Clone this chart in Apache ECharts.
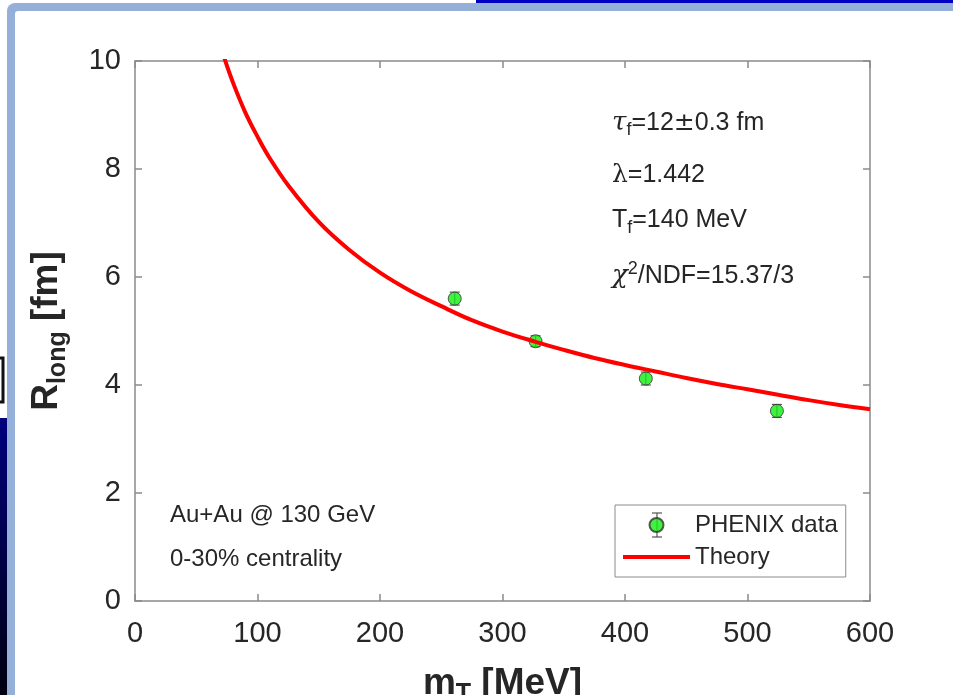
<!DOCTYPE html>
<html>
<head>
<meta charset="utf-8">
<script src="https://cdn.jsdelivr.net/npm/echarts@6/dist/echarts.min.js"></script>
<style>
html,body{margin:0;padding:0;background:#fff;}
#chart{width:953px;height:695px;}
</style>
</head>
<body>
<div id="chart"></div>
<script>
// PHENIX data points: m_T [MeV], R_long [fm], error [fm]
const dataMT = [261, 327, 417, 524];
const dataR = [5.6, 4.81, 4.12, 3.52];
const dataErr = [0.12, 0.1, 0.12, 0.12];

// Theory curve samples
const theoryMT = [73, 80, 90, 100, 110, 125, 150, 175, 200, 225, 250, 275, 300, 327, 350, 375, 400, 425, 450, 475, 500, 525, 550, 575, 600];
const theoryR  = [10.05, 9.6, 9.05, 8.6, 8.2, 7.7, 7.02, 6.5, 6.08, 5.74, 5.46, 5.2, 4.99, 4.8, 4.65, 4.5, 4.37, 4.25, 4.13, 4.02, 3.92, 3.82, 3.72, 3.63, 3.55];

const xTicks = [0, 100, 200, 300, 400, 500, 600];
const yTicks = [0, 2, 4, 6, 8, 10];

const FONT = '"Liberation Sans", Arial, Helvetica, sans-serif';
const TXT = '#262626';
const AX = '#8a8a8a';

const chart = echarts.init(document.getElementById('chart'), null, {renderer: 'canvas'});

const scatterData = dataMT.map((x, i) => [x, dataR[i]]);
const errData = dataMT.map((x, i) => [x, dataR[i], dataErr[i]]);
const lineData = theoryMT.map((x, i) => [x, theoryR[i]]);

const axisCommon = {
  axisLine: {show: true, onZero: false, lineStyle: {color: AX, width: 1.5}},
  axisTick: {show: true, inside: true, length: 7, lineStyle: {color: AX, width: 1.5}},
  splitLine: {show: false}
};

const option = {
  animation: false,
  backgroundColor: '#ffffff',
  grid: {left: 135, top: 61, right: 83, bottom: 94, containLabel: false, outerBoundsMode: 'none'},
  xAxis: [
    Object.assign({
      type: 'value', min: xTicks[0], max: xTicks[xTicks.length - 1], interval: 100, position: 'bottom',
      axisLabel: {fontSize: 29, color: TXT, fontFamily: FONT, margin: 18},
      name: '{m|m}{s|T}{m| [MeV]}', nameLocation: 'middle', nameGap: 63,
      nameTextStyle: {
        rich: {
          m: {fontSize: 37, fontWeight: 'bold', color: TXT, fontFamily: FONT, lineHeight: 40},
          s: {fontSize: 25, fontWeight: 'bold', color: TXT, fontFamily: FONT, padding: [20, 0, 0, 0], lineHeight: 40}
        }
      }
    }, axisCommon),
    Object.assign({
      type: 'value', min: xTicks[0], max: xTicks[xTicks.length - 1], interval: 100, position: 'top',
      axisLabel: {show: false}
    }, axisCommon)
  ],
  yAxis: [
    Object.assign({
      type: 'value', min: yTicks[0], max: yTicks[yTicks.length - 1], interval: 2, position: 'left',
      axisLabel: {fontSize: 29, color: TXT, fontFamily: FONT, margin: 14},
      name: '{m|R}{s|long}{m| [fm]}', nameLocation: 'middle', nameGap: 68, nameRotate: 90,
      nameTextStyle: {
        rich: {
          m: {fontSize: 37, fontWeight: 'bold', color: TXT, fontFamily: FONT, lineHeight: 40},
          s: {fontSize: 25, fontWeight: 'bold', color: TXT, fontFamily: FONT, padding: [22, 0, 0, 0], lineHeight: 40}
        }
      }
    }, axisCommon),
    Object.assign({
      type: 'value', min: yTicks[0], max: yTicks[yTicks.length - 1], interval: 2, position: 'right',
      axisLabel: {show: false}
    }, axisCommon)
  ],
  legend: {
    orient: 'vertical', left: 615, top: 505, z: 4,
    padding: [8, 8, 8, 8], itemGap: 8, itemWidth: 67, itemHeight: 14,
    borderColor: '#8c8c8c', borderWidth: 1, backgroundColor: 'transparent',
    textStyle: {fontSize: 24, color: TXT, fontFamily: FONT},
    data: [
      {name: 'PHENIX data', icon: 'circle'},
      {name: 'Theory', icon: 'path://M0,0H67V4H0Z'}
    ]
  },
  series: [
    {
      name: 'PHENIX data err', type: 'custom', z: 1,
      data: errData,
      renderItem: function (params, api) {
        const x = api.value(0), y = api.value(1), e = api.value(2);
        const top = api.coord([x, y + e]);
        const bot = api.coord([x, y - e]);
        const c = {stroke: '#555', lineWidth: 1.2};
        return {
          type: 'group',
          children: [
            {type: 'line', shape: {x1: top[0], y1: top[1], x2: bot[0], y2: bot[1]}, style: c},
            {type: 'line', shape: {x1: top[0] - 5, y1: top[1], x2: top[0] + 5, y2: top[1]}, style: c},
            {type: 'line', shape: {x1: bot[0] - 5, y1: bot[1], x2: bot[0] + 5, y2: bot[1]}, style: c}
          ]
        };
      }
    },
    {
      name: 'PHENIX data', type: 'scatter', z: 2,
      data: scatterData, symbol: 'circle', symbolSize: 13,
      itemStyle: {color: '#11ee11', borderColor: '#333', borderWidth: 1}
    },
    {
      name: 'Theory', type: 'line', z: 3,
      data: lineData, smooth: 0.4, symbol: 'none', showSymbol: false, clip: true,
      lineStyle: {color: '#ff0000', width: 4},
      itemStyle: {color: '#ff0000'}
    }
  ],
  graphic: [
    // slide background pieces
    {type: 'rect', z: -20, shape: {x: 0, y: 0, width: 953, height: 695}, style: {fill: '#ffffff'}},
    {type: 'rect', z: -19, shape: {x: 476, y: 0, width: 477, height: 4}, style: {fill: '#0000c4'}},
    {type: 'rect', z: -19, shape: {x: 0, y: 418, width: 8, height: 277},
      style: {fill: new echarts.graphic.LinearGradient(0, 0, 0, 1, [{offset: 0, color: '#00007e'}, {offset: 1, color: '#000010'}])}},
    {type: 'polyline', z: -19, shape: {points: [[0, 358], [3, 358], [3, 402], [0, 402]]}, style: {stroke: '#111', lineWidth: 3, fill: null}},
    {type: 'rect', z: -18, shape: {x: 7, y: 3, width: 960, height: 720, r: 8}, style: {fill: '#94b0d8'}},
    {type: 'rect', z: -17, shape: {x: 15, y: 11, width: 950, height: 710, r: 3}, style: {fill: '#ffffff'}},
    // legend error-bar glyph behind the legend marker
    {type: 'group', z: 1, children: [
      {type: 'line', shape: {x1: 657, y1: 513, x2: 657, y2: 537}, style: {stroke: '#555', lineWidth: 1.2}},
      {type: 'line', shape: {x1: 652, y1: 513, x2: 662, y2: 513}, style: {stroke: '#555', lineWidth: 1.2}},
      {type: 'line', shape: {x1: 652, y1: 537, x2: 662, y2: 537}, style: {stroke: '#555', lineWidth: 1.2}}
    ]},
    // annotations
    {type: 'text', left: 612, top: 110, z: 10, style: {
      text: '{g|τ}{s|f}{t|=12}{pm|±}{t|0.3 fm}',
      rich: {
        g: {fontSize: 26, fontStyle: 'italic', fontFamily: '"DejaVu Serif", serif', fill: TXT},
        s: {fontSize: 18, fontFamily: FONT, fill: TXT, padding: [15, 0, 0, 0]},
        t: {fontSize: 25, fontFamily: FONT, fill: TXT},
        pm: {fontSize: 25, fontFamily: '"DejaVu Sans", sans-serif', fill: TXT}
      }}},
    {type: 'text', left: 612, top: 163, z: 10, style: {
      text: '{g|λ}{t|=1.442}',
      rich: {
        g: {fontSize: 25, fontFamily: '"DejaVu Serif", serif', fill: TXT},
        t: {fontSize: 25, fontFamily: FONT, fill: TXT}
      }}},
    {type: 'text', left: 612, top: 208, z: 10, style: {
      text: '{t|T}{s|f}{t|=140 MeV}',
      rich: {
        s: {fontSize: 18, fontFamily: FONT, fill: TXT, padding: [15, 0, 0, 0]},
        t: {fontSize: 25, fontFamily: FONT, fill: TXT}
      }}},
    {type: 'text', left: 612, top: 260, z: 10, style: {
      text: '{g|χ}{p|2}{t|/NDF=15.37/3}',
      rich: {
        g: {fontSize: 26, fontStyle: 'italic', fontFamily: '"DejaVu Serif", serif', fill: TXT},
        p: {fontSize: 18, fontFamily: FONT, fill: TXT, padding: [0, 0, 15, 0]},
        t: {fontSize: 25, fontFamily: FONT, fill: TXT}
      }}},
    {type: 'text', left: 170, top: 503, z: 10, style: {text: 'Au+Au @ 130 GeV', fontSize: 24, fontFamily: FONT, fill: TXT}},
    {type: 'text', left: 170, top: 547, z: 10, style: {text: '0-30% centrality', fontSize: 24, fontFamily: FONT, fill: TXT}}
  ]
};

chart.setOption(option);
</script>
</body>
</html>
